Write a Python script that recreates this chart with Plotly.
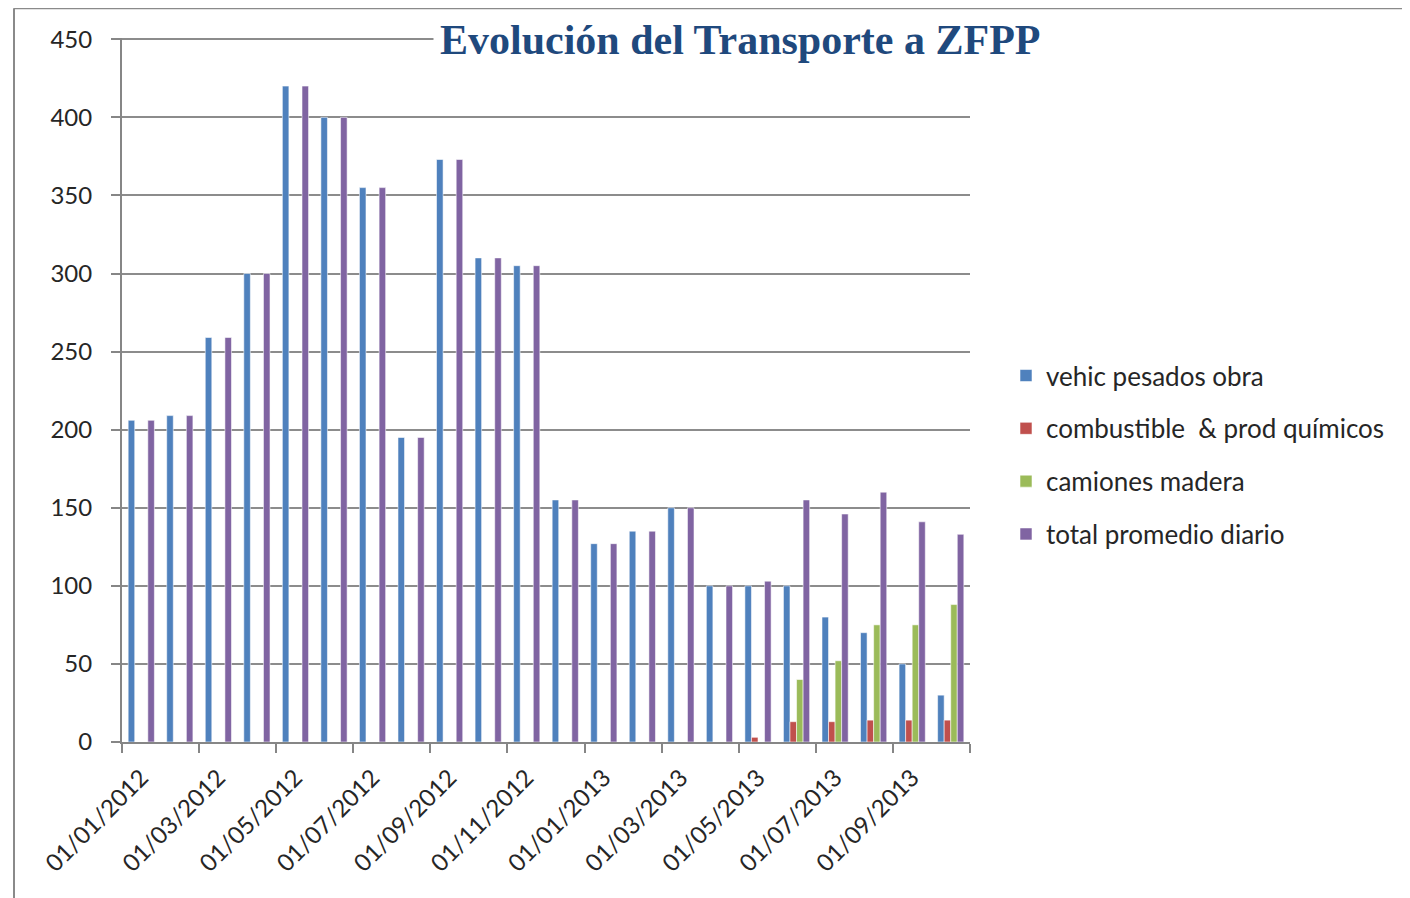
import plotly.graph_objects as go

months = ["01/01/2012", "01/02/2012", "01/03/2012", "01/04/2012", "01/05/2012", "01/06/2012",
          "01/07/2012", "01/08/2012", "01/09/2012", "01/10/2012", "01/11/2012", "01/12/2012",
          "01/01/2013", "01/02/2013", "01/03/2013", "01/04/2013", "01/05/2013", "01/06/2013",
          "01/07/2013", "01/08/2013", "01/09/2013", "01/10/2013"]

vehic_pesados = [206, 209, 259, 300, 420, 400, 355, 195, 373, 310, 305, 155,
                 127, 135, 150, 100, 100, 100, 80, 70, 50, 30]
combustible = [0, 0, 0, 0, 0, 0, 0, 0, 0, 0, 0, 0,
               0, 0, 0, 0, 3, 13, 13, 14, 14, 14]
camiones_madera = [0, 0, 0, 0, 0, 0, 0, 0, 0, 0, 0, 0,
                   0, 0, 0, 0, 0, 40, 52, 75, 75, 88]
total_diario = [206, 209, 259, 300, 420, 400, 355, 195, 373, 310, 305, 155,
                127, 135, 150, 100, 103, 155, 146, 160, 141, 133]

series_names = ["vehic pesados obra", "combustible  & prod químicos", "camiones madera", "total promedio diario"]
series_values = [vehic_pesados, combustible, camiones_madera, total_diario]
series_colors = ["#4F81BD", "#C0504D", "#9BBB59", "#8064A2"]

label_months = months[::2]
y_ticks = list(range(0, 451, 50))

x_idx = list(range(len(months)))

FONT = "Lato"
TXT = "#262626"
AX = "#868686"

fig = go.Figure()
for i, (name, vals, col) in enumerate(zip(series_names, series_values, series_colors)):
    fig.add_trace(go.Bar(
        x=x_idx, y=vals, name=name,
        marker=dict(color=col, line=dict(color="rgba(255,255,255,0.55)", width=1)),
        legendgroup=f"g{i}",
    ))

# page has 8px body margin -> figure coords = page coords - 8
OFF = 8
W, H = 1410 - OFF, 898 - OFF
Y_TOP = 450.8
unit = (742 - 39) / 450.0
plot_top_page = 742 - Y_TOP * unit
L = 122 - OFF
R = W - (970 - OFF)
T = plot_top_page - OFF
B = H - (742 - OFF)

pw, ph = 970 - 122, 742 - plot_top_page
def px_x(x):
    return (x - 122) / pw
def px_y(y):
    return (742 - y) / ph

fig.update_layout(
    width=W, height=H,
    margin=dict(l=L, r=R, t=T, b=B, pad=0, autoexpand=False),
    paper_bgcolor="white", plot_bgcolor="white",
    barmode="group", bargap=0.32, bargroupgap=0.0,
    font=dict(family=FONT, size=24, color=TXT),
    showlegend=True,
    legend=dict(
        x=px_x(1006), y=px_y(352), xanchor="left", yanchor="top",
        font=dict(family=FONT, size=26, color=TXT),
        tracegroupgap=16, itemwidth=30, bgcolor="rgba(0,0,0,0)",
    ),
    xaxis=dict(
        range=[-0.5, len(months) - 0.5],
        tickmode="array", tickvals=x_idx[::2], ticktext=label_months,
        tickangle=-45, ticks="", showgrid=False, zeroline=False,
        showline=True, linecolor=AX, linewidth=2,
        ticklabelstandoff=10,
        tickfont=dict(family=FONT, size=24, color=TXT),
        minor=dict(tickmode="array", tickvals=[v - 0.5 for v in x_idx[::2]] + [len(months) - 0.5],
                   ticks="outside", ticklen=9, tickcolor=AX, tickwidth=2, showgrid=False),
    ),
    yaxis=dict(
        range=[0, Y_TOP], tickmode="array", tickvals=y_ticks,
        ticks="outside", ticklen=9, tickcolor=AX, tickwidth=2,
        showgrid=True, gridcolor="#8C8C8C", gridwidth=2,
        zeroline=False, showline=True, linecolor=AX, linewidth=2,
        ticklabelstandoff=14,
        tickfont=dict(family=FONT, size=24, color=TXT),
    ),
    annotations=[dict(
        text="<b>Evolución del Transporte a ZFPP</b>",
        x=px_x(740), y=px_y(40), xref="paper", yref="paper",
        xanchor="center", yanchor="middle", showarrow=False,
        font=dict(family="Liberation Serif", size=42, color="#1F497D"),
        bgcolor="white", borderpad=6,
    )],
    shapes=[
        dict(type="line", xref="paper", yref="paper", x0=px_x(14), x1=px_x(1420), y0=px_y(8), y1=px_y(8),
             line=dict(color="#8A8A8A", width=2)),
        dict(type="line", xref="paper", yref="paper", x0=px_x(14), x1=px_x(14), y0=px_y(8), y1=px_y(910),
             line=dict(color="#8A8A8A", width=2)),
    ],
)

fig.write_html("out.html")
